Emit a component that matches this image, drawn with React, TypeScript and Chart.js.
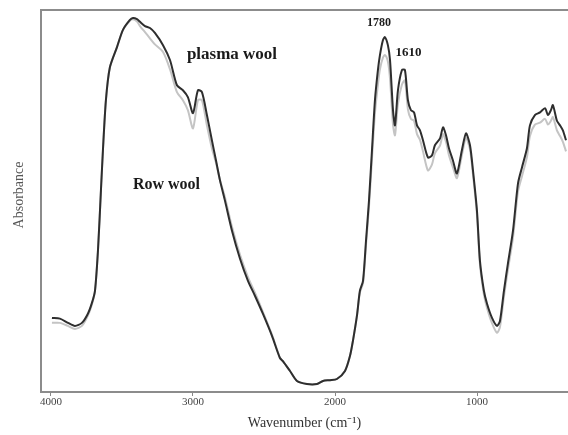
import React, { useEffect, useRef } from "react";
import { Chart, registerables } from "chart.js";

Chart.register(...registerables);

// Wavenumber (cm-1) sample positions
const wavenumbers = [
  3993, 3937, 3880, 3831, 3782, 3740, 3711, 3690, 3669, 3648, 3634, 3613, 3585, 3535, 3493, 3444,
  3423, 3394, 3373, 3338, 3303, 3268, 3211, 3162, 3113, 3071, 3036, 3000, 2965, 2937, 2902, 2867,
  2838, 2810, 2775, 2726, 2669, 2613, 2564, 2508, 2444, 2388, 2367, 2317, 2268, 2198, 2127, 2085,
  2036, 1987, 1930, 1895, 1874, 1846, 1825, 1803, 1782, 1761, 1740, 1719, 1698, 1684, 1663, 1649,
  1628, 1613, 1592, 1578, 1557, 1529, 1508, 1487, 1466, 1444, 1423, 1402, 1381, 1346, 1318, 1297,
  1261, 1240, 1219, 1198, 1170, 1142, 1107, 1078, 1050, 1029, 1001, 980, 952, 930, 895, 860,
  839, 811, 783, 747, 712, 684, 649, 628, 593, 557, 522, 501, 480, 466, 438, 416,
  396, 374,
];

// Absorbance (arbitrary units) – plasma treated wool
const plasmaWool = [
  19.4, 19.2, 18.1, 17.3, 18.1, 20.5, 23.4, 26.5, 37.0, 52.8, 63.3, 76.4, 85.0, 90.3, 94.8, 97.4,
  97.9, 97.6, 96.9, 95.8, 95.3, 94.0, 90.8, 86.9, 80.3, 79.0, 77.2, 73.0, 79.0, 78.5, 72.5, 65.9,
  60.6, 55.4, 50.1, 42.3, 34.9, 29.1, 25.2, 20.5, 14.7, 8.9, 8.1, 5.5, 2.9, 2.1, 2.1, 2.9,
  3.1, 3.4, 5.5, 9.4, 13.4, 19.9, 26.5, 29.1, 39.6, 50.1, 63.3, 76.4, 84.3, 88.2, 92.1, 92.9,
  90.8, 86.9, 73.8, 69.8, 79.0, 84.3, 84.3, 76.4, 73.8, 73.2, 69.8, 68.5, 65.9, 61.4, 61.9, 64.6,
  66.4, 69.3, 67.2, 63.8, 60.6, 57.2, 63.3, 67.7, 64.6, 58.0, 47.5, 34.4, 26.5, 23.1, 19.4, 17.3,
  18.6, 26.5, 33.6, 42.3, 54.6, 58.8, 63.8, 69.8, 72.5, 73.2, 74.3, 72.5, 73.8, 75.1, 71.0, 69.8,
  68.5, 65.9,
];

// Absorbance (arbitrary units) – raw wool
const rawWool = [
  18.1, 18.1, 17.3, 16.5, 17.3, 20.0, 23.0, 26.5, 37.0, 52.8, 63.3, 76.4, 85.0, 90.3, 94.8, 97.2,
  97.6, 97.0, 95.8, 94.2, 92.6, 91.0, 89.0, 84.5, 78.5, 76.4, 73.8, 69.0, 76.4, 76.4, 69.8, 63.8,
  60.0, 55.5, 51.0, 43.3, 35.9, 30.1, 26.0, 21.0, 15.0, 9.0, 8.1, 5.5, 2.9, 2.1, 2.1, 2.9,
  3.1, 3.4, 5.5, 9.4, 13.4, 19.9, 26.0, 28.5, 38.5, 48.5, 61.0, 73.0, 80.5, 84.5, 87.5, 88.2,
  86.5, 82.0, 70.0, 67.2, 75.5, 80.5, 81.6, 74.0, 71.5, 71.0, 67.5, 66.0, 63.0, 58.0, 59.5, 62.5,
  64.5, 67.5, 65.5, 62.0, 58.8, 56.0, 62.0, 66.5, 63.5, 57.0, 46.5, 33.5, 25.5, 22.0, 18.0, 15.5,
  17.0, 25.0, 32.0, 40.5, 52.5, 56.5, 61.5, 67.0, 70.0, 70.5, 71.5, 70.0, 71.0, 72.0, 68.5, 67.0,
  65.5, 63.0,
];

const xTickValues = [4000, 3000, 2000, 1000];

// Text annotations anchored in data coordinates
const annotationTexts = ["plasma wool", "Row wool", "1780", "1610"];
const annotationWn = [3043, 3423, 1775, 1574];
const annotationAbs = [88.2, 54.1, 96.5, 88.9];
const annotationSizes = [17, 16, 12, 13];

const toPoints = (ys: number[]) => wavenumbers.map((x, i) => ({ x, y: ys[i] }));

const framePlugin = {
  id: "frameAndText",
  beforeDatasetsDraw(chart: any) {
    const { ctx, chartArea } = chart;
    ctx.save();
    ctx.strokeStyle = "#8c8c8c";
    ctx.lineWidth = 2;
    ctx.beginPath();
    ctx.moveTo(chartArea.right + 2, chartArea.top);
    ctx.lineTo(chartArea.left, chartArea.top);
    ctx.lineTo(chartArea.left, chartArea.bottom);
    ctx.lineTo(chartArea.right + 2, chartArea.bottom);
    ctx.stroke();
    ctx.restore();
  },
  afterDatasetsDraw(chart: any) {
    const { ctx, chartArea, scales } = chart;
    ctx.save();
    ctx.fillStyle = "#1a1a1a";
    ctx.textBaseline = "middle";
    ctx.textAlign = "left";
    annotationTexts.forEach((t, i) => {
      ctx.font = `bold ${annotationSizes[i]}px "Liberation Serif", serif`;
      ctx.fillText(t, scales.x.getPixelForValue(annotationWn[i]), scales.y.getPixelForValue(annotationAbs[i]));
    });
    // y-axis title
    ctx.translate(19, (chartArea.top + chartArea.bottom) / 2 - 6);
    ctx.rotate(-Math.PI / 2);
    ctx.textAlign = "center";
    ctx.fillStyle = "#555";
    ctx.font = `14px "Liberation Serif", serif`;
    ctx.fillText("Absorbance", 0, 0);
    ctx.restore();
  },
};

export default function App() {
  const canvasRef = useRef<HTMLCanvasElement | null>(null);

  useEffect(() => {
    if (!canvasRef.current) return;
    const chart = new Chart(canvasRef.current, {
      type: "line",
      data: {
        datasets: [
          {
            label: "plasma wool",
            data: toPoints(plasmaWool),
            borderColor: "#2e2e2e",
            borderWidth: 2,
            pointRadius: 0,
            tension: 0.25,
          },
          {
            label: "Row wool",
            data: toPoints(rawWool),
            borderColor: "#c4c4c4",
            borderWidth: 2,
            pointRadius: 0,
            tension: 0.25,
          },
        ],
      },
      options: {
        animation: false,
        responsive: true,
        maintainAspectRatio: false,
        layout: { padding: { left: 41, top: 10, right: 0, bottom: 3 } },
        plugins: {
          legend: { display: false },
          tooltip: { enabled: false },
        },
        scales: {
          x: {
            type: "linear",
            reverse: true,
            min: 360,
            max: 4070,
            afterBuildTicks: (scale: any) => {
              scale.ticks = xTickValues.map((v) => ({ value: v }));
            },
            grid: { drawOnChartArea: false, drawTicks: true, tickLength: 4, color: "#888" },
            border: { display: false },
            ticks: {
              color: "#444",
              font: { family: '"Liberation Serif", serif', size: 11 },
              padding: 0,
              maxRotation: 0,
              callback: (v: any) => String(v),
            },
            title: {
              display: true,
              text: "Wavenumber (cm⁻¹)",
              color: "#333",
              font: { family: '"Liberation Serif", serif', size: 14 },
              padding: { top: 6, bottom: 0 },
            },
          },
          y: {
            display: false,
            min: 0,
            max: 100,
          },
        },
      },
      plugins: [framePlugin],
    });
    return () => chart.destroy();
  }, []);

  return (
    <div style={{ position: "absolute", left: 0, top: 0, width: 568, height: 435, background: "#fff" }}>
      <canvas ref={canvasRef} />
    </div>
  );
}
